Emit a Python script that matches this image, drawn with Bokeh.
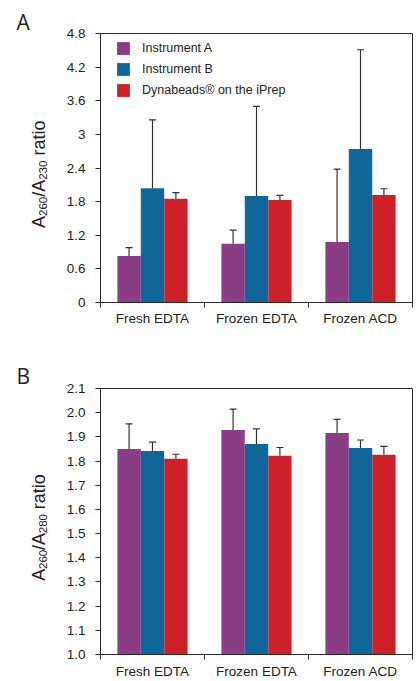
import math
from bokeh.plotting import figure
from bokeh.layouts import column, row
from bokeh.models import (ColumnDataSource, FixedTicker, Whisker, TeeHead,
                          Legend, LegendItem, Range1d)
from bokeh.core.properties import value
from bokeh.embed import file_html
from bokeh.resources import INLINE

# ---------------- data ----------------
categories = ["Fresh EDTA", "Frozen EDTA", "Frozen ACD"]
series_names = ["Instrument A", "Instrument B", "Dynabeads\u00ae on the iPrep"]
series_colors = ["#8B3D86", "#0F679C", "#CE2028"]

# Panel A: A260/A230 ratio (mean, SD)
a230_inst_a = [0.83, 1.05, 1.08]
a230_inst_a_sd = [0.15, 0.24, 1.30]
a230_inst_b = [2.04, 1.90, 2.74]
a230_inst_b_sd = [1.22, 1.60, 1.77]
a230_dyna = [1.85, 1.83, 1.92]
a230_dyna_sd = [0.11, 0.08, 0.11]
a230_ticks = [0, 0.6, 1.2, 1.8, 2.4, 3, 3.6, 4.2, 4.8]
a230_tick_labels = ["0", "0.6", "1.2", "1.8", "2.4", "3", "3.6", "4.2", "4.8"]

# Panel B: A260/A280 ratio (mean, SD)
a280_inst_a = [1.850, 1.928, 1.916]
a280_inst_a_sd = [0.104, 0.087, 0.056]
a280_inst_b = [1.842, 1.871, 1.854]
a280_inst_b_sd = [0.036, 0.062, 0.033]
a280_dyna = [1.809, 1.822, 1.826]
a280_dyna_sd = [0.019, 0.034, 0.035]
a280_ticks = [1.0, 1.1, 1.2, 1.3, 1.4, 1.5, 1.6, 1.7, 1.8, 1.9, 2.0, 2.1]
a280_tick_labels = ["1.0", "1.1", "1.2", "1.3", "1.4", "1.5", "1.6", "1.7",
                    "1.8", "1.9", "2.0", "2.1"]

FONT = "Liberation Sans"
TXT = "#222222"
LINE = "#2a2a2a"

W = 417
SIDE_W = 60           # narrow figure holding the panel letter and y title
LEFT, RIGHT = 40, 5   # borders of the main figure
FRAME_H = 269
BAR_W = 0.225
OFFSETS = [-BAR_W, 0.0, BAR_W]


def make_side(height, top, bottom, sub2, letter, letter_base):
    # frame of this figure spans the same rows as the chart frame;
    # y data = distance (px) from the canvas bottom
    s = figure(width=SIDE_W, height=height, x_range=Range1d(0, SIDE_W),
               y_range=Range1d(bottom, height - top), x_axis_type=None,
               y_axis_type=None, output_backend="svg", toolbar_location=None,
               min_border_left=0, min_border_right=0, min_border_top=top,
               min_border_bottom=bottom)
    s.grid.visible = False
    s.outline_line_color = None
    s.background_fill_color = "white"
    s.border_fill_color = "white"

    # y axis title built from pieces (subscripts), reading bottom-to-top
    main_fs, sub_fs = 18.0, 11.5
    # (text, font size, advance in em, gap before in em)
    pieces = [("A", main_fs, 0.667, 0.0), ("260", sub_fs, 1.668, 0.0),
              ("/A", main_fs, 0.945, 0.0), (sub2, sub_fs, 1.668, 0.0),
              ("ratio", main_fs, 1.945, 0.278 * main_fs / sub_fs)]
    sy = top + 194.5
    for txt, fs, em, gap in pieces:
        sy -= gap * sub_fs if gap else 0.0
        is_sub = fs < main_fs
        s.text(x=[42.5 if is_sub else 38.0], y=[height - sy], text=[txt],
               angle=math.pi / 2, text_align="left",
               text_baseline="alphabetic", text_font=value(FONT),
               text_font_size=value(f"{fs}px"), text_color=TXT)
        sy -= em * fs

    s.text(x=[16.0], y=[height - letter_base], text=[letter],
           text_align="left", text_baseline="alphabetic",
           text_font=value("Open Sans"), text_font_size=value("21px"),
           text_color=TXT, level="overlay")
    return s


def make_panel(means, sds, y0, y1, ticks, tick_labels, height, top, bottom,
               with_legend, label_std):
    p = figure(width=W - SIDE_W, height=height,
               x_range=Range1d(0, len(categories)),
               y_range=Range1d(y0, y1), output_backend="svg",
               toolbar_location=None, min_border_left=LEFT,
               min_border_right=RIGHT, min_border_top=top,
               min_border_bottom=bottom)
    p.grid.visible = False
    p.outline_line_color = LINE
    p.outline_line_width = 1
    p.background_fill_color = "white"
    p.border_fill_color = "white"

    renderers = []
    for k in range(3):
        xs = [j + 0.5 + OFFSETS[k] for j in range(len(categories))]
        upper = [m + s for m, s in zip(means[k], sds[k])]
        src = ColumnDataSource(dict(x=xs, top=means[k], upper=upper))
        r = p.vbar(x="x", top="top", bottom=y0, width=BAR_W, source=src,
                   fill_color=series_colors[k], line_color=None)
        renderers.append(r)
        wk = Whisker(base="x", lower="top", upper="upper", source=src,
                     dimension="height", line_color="#333333", line_width=1.2,
                     upper_head=TeeHead(size=7, line_color="#333333",
                                        line_width=1.2),
                     lower_head=None)
        p.add_layout(wk)

    # x axis: labels at category centres, ticks at boundaries
    xa = p.xaxis[0]
    xa.ticker = FixedTicker(ticks=[j + 0.5 for j in range(len(categories))],
                            minor_ticks=list(range(len(categories) + 1)))
    xa.major_label_overrides = {j + 0.5: c for j, c in enumerate(categories)}
    xa.major_tick_line_color = None
    xa.minor_tick_in = 0
    xa.minor_tick_out = 5
    xa.minor_tick_line_color = LINE
    xa.axis_line_color = LINE
    xa.major_label_text_font = FONT
    xa.major_label_text_font_size = "13.5px"
    xa.major_label_text_color = TXT
    xa.major_label_standoff = label_std

    ya = p.yaxis[0]
    ya.ticker = FixedTicker(ticks=ticks)
    ya.major_label_overrides = {t: l for t, l in zip(ticks, tick_labels)}
    ya.minor_tick_line_color = None
    ya.major_tick_in = 0
    ya.major_tick_out = 5
    ya.major_tick_line_color = LINE
    ya.axis_line_color = LINE
    ya.major_label_text_font = FONT
    ya.major_label_text_font_size = "13.5px"
    ya.major_label_text_color = TXT
    ya.major_label_standoff = 10

    if with_legend:
        items = [LegendItem(label=n, renderers=[r])
                 for n, r in zip(series_names, renderers)]
        legend = Legend(items=items, location=(15, 202.3),
                        orientation="vertical", padding=0, margin=0,
                        spacing=1, glyph_width=16, glyph_height=16,
                        label_height=20, label_standoff=11,
                        label_text_font=FONT, label_text_font_size="12.5px",
                        label_text_color=TXT, border_line_color=None,
                        background_fill_alpha=0)
        p.add_layout(legend)
    return p


pa = make_panel([a230_inst_a, a230_inst_b, a230_dyna],
                [a230_inst_a_sd, a230_inst_b_sd, a230_dyna_sd],
                0, 4.8, a230_ticks, a230_tick_labels,
                height=340, top=33, bottom=38, with_legend=True, label_std=2)
sa = make_side(340, 33, 38, "230", "A", 21.7)

pb = make_panel([a280_inst_a, a280_inst_b, a280_dyna],
                [a280_inst_a_sd, a280_inst_b_sd, a280_dyna_sd],
                1.0, 2.1, a280_ticks, a280_tick_labels,
                height=341, top=48, bottom=24, with_legend=False, label_std=3)
sb = make_side(341, 48, 24, "280", "B", 35.0)

layout = column(row(sa, pa, spacing=0), row(sb, pb, spacing=0), spacing=0)
open("out.html", "w").write(file_html(layout, INLINE))
